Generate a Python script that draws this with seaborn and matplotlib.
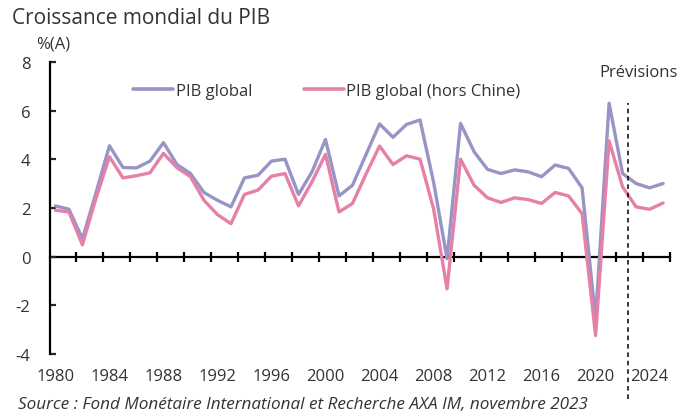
import numpy as np
import pandas as pd
import matplotlib
matplotlib.use("Agg")
import matplotlib.pyplot as plt
import seaborn as sns

# Data (% growth, annual)
years = list(range(1980, 2026))
pib_global = [2.09, 1.95, 0.74, 2.62, 4.56, 3.67, 3.65, 3.93, 4.69, 3.79,
              3.42, 2.64, 2.32, 2.05, 3.24, 3.35, 3.93, 4.01, 2.56, 3.49,
              4.82, 2.50, 2.94, 4.20, 5.46, 4.91, 5.44, 5.62, 3.08, -0.08,
              5.48, 4.32, 3.59, 3.42, 3.57, 3.49, 3.29, 3.77, 3.63, 2.83,
              -2.56, 6.31, 3.42, 3.01, 2.83, 3.01]
pib_hors_chine = [1.91, 1.84, 0.49, 2.40, 4.11, 3.24, 3.33, 3.45, 4.25, 3.66,
                  3.29, 2.32, 1.73, 1.36, 2.56, 2.74, 3.31, 3.42, 2.09, 3.08,
                  4.21, 1.84, 2.19, 3.40, 4.55, 3.79, 4.15, 4.01, 1.98, -1.32,
                  4.01, 2.94, 2.42, 2.23, 2.42, 2.35, 2.19, 2.64, 2.50, 1.77,
                  -3.24, 4.76, 2.87, 2.05, 1.95, 2.21]
series_names = ["PIB global", "PIB global (hors Chine)"]
label_years = list(range(1980, 2025, 4))
y_ticks = [-4, -2, 0, 2, 4, 6, 8]
forecast_start = 2022.4

df = pd.DataFrame({"Année": years,
                   series_names[0]: pib_global,
                   series_names[1]: pib_hors_chine})
long_df = df.melt(id_vars="Année", var_name="Série", value_name="Croissance")

sns.set_style("white")
plt.rcParams['font.family'] = ['Open Sans', 'DejaVu Sans']

fig = plt.figure(figsize=(6.91, 4.14), dpi=100)
ax = fig.add_axes([0.0724, 0.1425, 0.897, 0.705])

sns.lineplot(data=long_df, x="Année", y="Croissance", hue="Série",
             palette=["#9894C6", "#E581A6"], linewidth=2.4, ax=ax)

ax.set_xlim(1979.6, 2025.5)
ax.set_ylim(-4, 8)
ax.set_yticks(y_ticks)
ax.set_yticklabels([str(v) for v in y_ticks], fontsize=12, color="#333333")
ax.set_xlabel("")
ax.set_ylabel("")

# spines
for s in ["top", "right", "bottom"]:
    ax.spines[s].set_visible(False)
ax.spines["left"].set_linewidth(1.6)
ax.spines["left"].set_color("black")
ax.tick_params(axis="y", direction="in", length=4, width=1.6, pad=14, left=True)

# year labels at the bottom, without tick marks
ax.set_xticks(label_years)
ax.set_xticklabels([str(y) for y in label_years], fontsize=12, color="#333333")
ax.tick_params(axis="x", length=0, pad=10, bottom=True)

# zero line with crossing ticks
zero_ax = ax.secondary_xaxis(1/3)
zero_ax.set_xticks(np.arange(1981.5, 2026, 2))
zero_ax.set_xticklabels([])
zero_ax.spines["bottom"].set_linewidth(1.6)
zero_ax.spines["bottom"].set_color("black")
zero_ax.tick_params(direction="inout", length=7, width=1.6, color="black")

# forecast marker
ax.vlines(forecast_start, -5.85, 6.3, colors="black", linestyles=(0, (3, 2.5)),
          linewidth=1.1, clip_on=False)
ax.text(2026.1, 7.6, "Prévisions", fontsize=12, color="#333333",
        ha="right", va="center")

leg = ax.legend(loc="upper left", bbox_to_anchor=(0.11, 0.98), ncol=2, frameon=False,
                fontsize=12, handlelength=2.4, handletextpad=0.15,
                columnspacing=3.1, labelcolor="#333333")
for line in leg.get_lines():
    line.set_linewidth(2.6)

fig.text(0.017, 0.955, "Croissance mondial du PIB", fontsize=15, color="#333333",
         ha="left", va="center")
fig.text(0.053, 0.892, "%(A)", fontsize=12, color="#333333", ha="left", va="center")
fig.text(0.026, 0.022, "Source : Fond Monétaire International et Recherche AXA IM, novembre 2023",
         fontsize=12.3, style="italic", color="#333333", ha="left", va="center")

fig.savefig("out.png", dpi=100)
